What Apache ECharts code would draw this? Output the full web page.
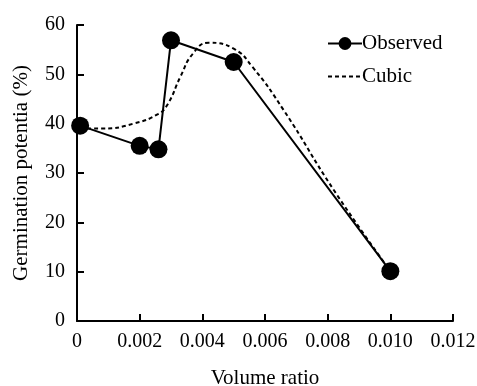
<!DOCTYPE html>
<html><head><meta charset="utf-8">
<script src="https://cdn.jsdelivr.net/npm/echarts@6/dist/echarts.min.js"></script>
<style>html,body{margin:0;padding:0;background:#fff}#c{width:477px;height:386px}</style>
</head><body><div id="c"></div>
<script>
const observedX = [0.0001, 0.002, 0.0026, 0.003, 0.005, 0.010];
const observedY = [39.6, 35.5, 34.8, 56.9, 52.5, 10.1];
const cubicX = [0.0001, 0.0008, 0.0018, 0.0026, 0.0029, 0.0033, 0.0037, 0.0042, 0.0050, 0.0056, 0.0066, 0.0082, 0.0099];
const cubicY = [39.0, 39.0, 40.0, 42.0, 44.0, 49.5, 54.2, 56.4, 55.2, 51.5, 42.7, 26.5, 11.0];
const xTicks = ['0', '0.002', '0.004', '0.006', '0.008', '0.010', '0.012'];
const yTicks = ['0', '10', '20', '30', '40', '50', '60'];

const font = 'Liberation Serif';
const chart = echarts.init(document.getElementById('c'));
chart.setOption({
  animation: false,
  backgroundColor: '#fff',
  textStyle: {fontFamily: font, color: '#000'},
  grid: {left: 77, right: 24, top: 25, bottom: 65, outerBoundsMode: 'none', containLabel: false},
  legend: {
    orient: 'vertical', left: 322, top: 28, itemGap: 12,
    itemWidth: 34, itemHeight: 16,
    textStyle: {fontFamily: font, fontSize: 21, color: '#000', padding: [0,0,0,-5]},
    data: [
      {name: 'Observed'},
      {name: 'Cubic', itemStyle: {opacity: 0}}
    ]
  },
  xAxis: {
    type: 'value', min: 0, max: 0.012, interval: 0.002,
    name: 'Volume ratio', nameLocation: 'middle', nameGap: 47,
    nameTextStyle: {fontFamily: font, fontSize: 21, color: '#000'},
    axisLine: {lineStyle: {color: '#000', width: 2}},
    axisTick: {inside: true, length: 7, lineStyle: {color: '#000', width: 2}},
    axisLabel: {fontFamily: font, fontSize: 20, color: '#000', margin: 11,
      formatter: (v) => xTicks[Math.round(v / 0.002)]},
    splitLine: {show: false}
  },
  yAxis: {
    type: 'value', min: 0, max: 60, interval: 10,
    name: 'Germination potentia (%)', nameLocation: 'middle', nameGap: 45, nameRotate: 90,
    nameTextStyle: {fontFamily: font, fontSize: 21, color: '#000'},
    axisLine: {show: true, lineStyle: {color: '#000', width: 2}},
    axisTick: {show: true, inside: true, length: 7, lineStyle: {color: '#000', width: 2}},
    axisLabel: {fontFamily: font, fontSize: 20, color: '#000', margin: 12,
      formatter: (v) => yTicks[Math.round(v / 10)]},
    splitLine: {show: false}
  },
  series: [
    {
      name: 'Cubic', type: 'line', smooth: 0.5, showSymbol: false, symbol: 'none',
      data: cubicX.map((x, i) => [x, cubicY[i]]),
      lineStyle: {color: '#000', width: 2, type: [4, 3]},
      itemStyle: {color: '#000'}, z: 1
    },
    {
      name: 'Observed', type: 'line', symbol: 'circle', symbolSize: 18,
      data: observedX.map((x, i) => [x, observedY[i]]),
      lineStyle: {color: '#000', width: 2},
      itemStyle: {color: '#000'}, z: 2
    }
  ]
});
</script></body></html>
